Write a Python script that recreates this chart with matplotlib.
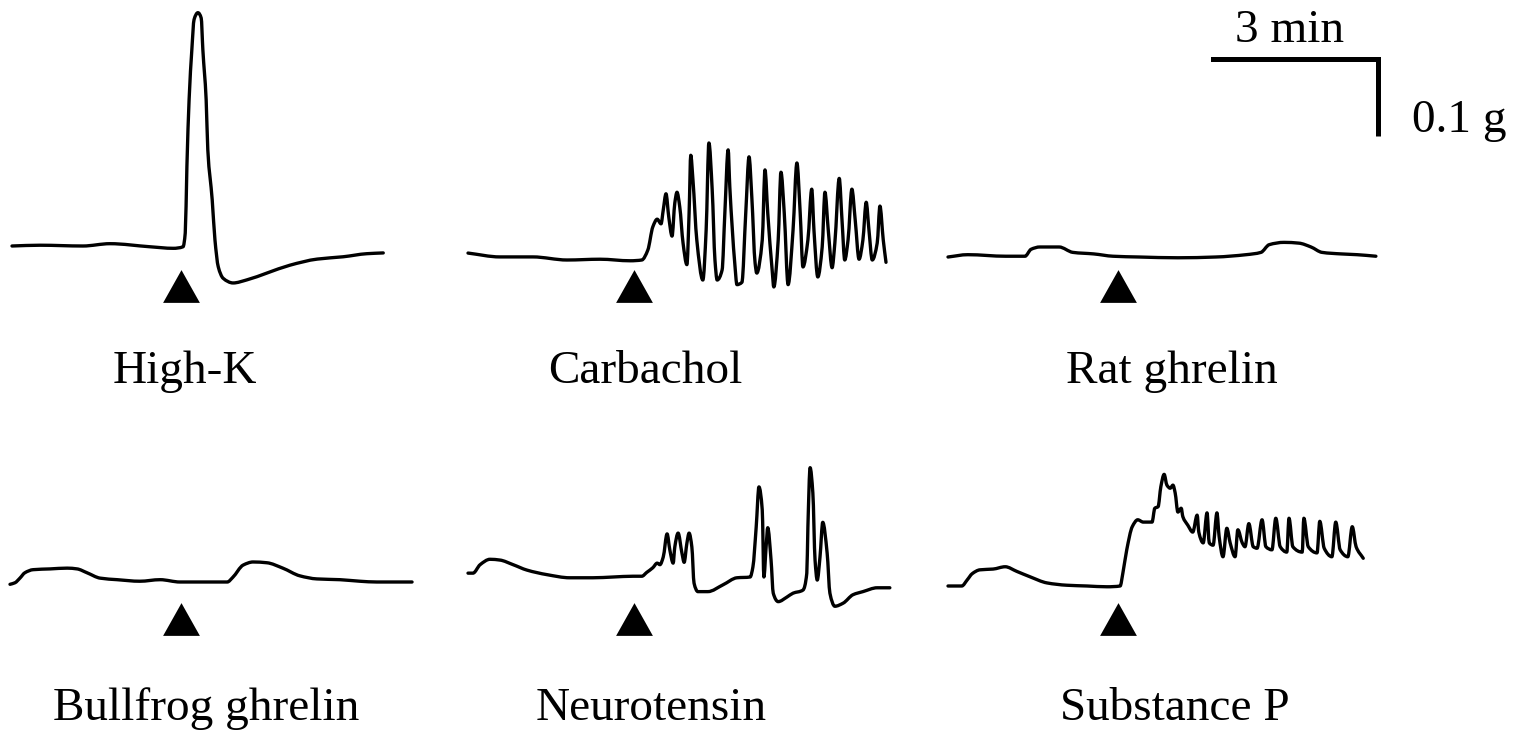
import matplotlib
matplotlib.use("Agg")
import numpy as np
import matplotlib.pyplot as plt
from matplotlib.transforms import offset_copy
from matplotlib.path import Path
from matplotlib.patches import PathPatch

# ---------------- data (time in min from trace start, tension in g above baseline) -------------
HIGHK_T = [0, 0.51, 1.29, 1.78, 2.51, 2.93, 3.11, 3.15, 3.18, 3.22, 3.27, 3.31, 3.38, 3.44, 3.47,
           3.53, 3.56, 3.64, 3.69, 3.75, 3.84, 4.02, 4.27, 4.64, 5.05, 5.55, 6.02, 6.45, 6.75]
HIGHK_G = [0, 0.001, 0, 0.003, -0.001, -0.003, -0.001, 0.017, 0.103, 0.190, 0.255, 0.294, 0.303,
           0.296, 0.255, 0.190, 0.125, 0.060, 0.008, -0.027, -0.042, -0.048, -0.044, -0.035,
           -0.025, -0.017, -0.014, -0.010, -0.009]

CARB_T = [0.00, 0.58, 1.18, 1.80, 2.40, 2.95, 3.16, 3.27, 3.36, 3.44, 3.51, 3.55, 3.60, 3.65, 3.71,
          3.76, 3.80, 3.85, 3.91, 3.98, 4.02, 4.05, 4.09, 4.16, 4.27, 4.33, 4.38, 4.44, 4.49,
          4.53, 4.62, 4.67, 4.73, 4.76, 4.85, 4.89, 4.98, 5.05, 5.11, 5.16, 5.22, 5.25, 5.35,
          5.40, 5.45, 5.53, 5.56, 5.64, 5.69, 5.75, 5.82, 5.91, 5.98, 6.04, 6.09, 6.18, 6.25,
          6.29, 6.36, 6.44, 6.49, 6.55, 6.62, 6.67, 6.75, 6.80, 6.85, 6.91, 6.98, 7.04, 7.11,
          7.18, 7.24, 7.29, 7.35, 7.44, 7.49, 7.55, 7.60]
CARB_G = [0.009, 0.004, 0.004, 0.000, 0.001, -0.001, 0.000, 0.013, 0.043, 0.053, 0.047, 0.065,
          0.086, 0.056, 0.031, 0.074, 0.088, 0.069, 0.022, -0.006, 0.061, 0.136, 0.104, 0.026,
          -0.026, 0.039, 0.152, 0.091, 0.000, -0.026, -0.013, 0.061, 0.143, 0.095, -0.004,
          -0.032, -0.029, 0.061, 0.134, 0.082, -0.004, -0.017, 0.026, 0.117, 0.061, -0.013,
          -0.035, 0.026, 0.114, 0.061, -0.032, 0.039, 0.126, 0.061, -0.009, 0.026, 0.092,
          0.039, -0.022, 0.017, 0.088, 0.039, -0.010, 0.022, 0.106, 0.052, 0.000, 0.026, 0.092,
          0.052, 0.001, 0.026, 0.075, 0.039, 0.000, 0.022, 0.070, 0.026, -0.003]

RAT_T = [0, 0.36, 1.05, 1.40, 1.51, 1.67, 2.02, 2.27, 2.65, 3.00, 3.47, 4.18, 4.87, 5.42, 5.69,
         5.84, 6.11, 6.38, 6.60, 6.80, 7.15, 7.44, 7.78]
RAT_G = [0, 0.003, 0.001, 0.001, 0.010, 0.013, 0.013, 0.006, 0.004, 0.001, 0, -0.001, 0, 0.003,
         0.006, 0.016, 0.019, 0.018, 0.013, 0.006, 0.004, 0.003, 0.001]

BULL_T = [0, 0.09, 0.18, 0.27, 0.42, 0.73, 1.04, 1.22, 1.40, 1.64, 1.95, 2.36, 2.73, 3.09, 3.45,
          3.95, 4.05, 4.24, 4.42, 4.67, 4.96, 5.27, 5.58, 6.00, 6.36, 6.67, 7.31]
BULL_G = [-0.003, -0.001, 0.005, 0.012, 0.016, 0.017, 0.018, 0.017, 0.012, 0.005, 0.003, 0.001,
          0.003, 0, 0, 0, 0.006, 0.022, 0.026, 0.025, 0.018, 0.008, 0.004, 0.003, 0.001, 0, 0]

NEURO_T = [0, 0.09, 0.22, 0.40, 0.58, 0.82, 1.07, 1.44, 1.85, 2.27, 2.64, 3.00, 3.16, 3.25, 3.36,
           3.44, 3.49, 3.55, 3.62, 3.67, 3.73, 3.76, 3.82, 3.89, 3.93, 3.98, 4.02, 4.07, 4.11,
           4.18, 4.36, 4.64, 4.89, 5.13, 5.18, 5.24, 5.29, 5.35, 5.38, 5.42, 5.45, 5.51, 5.55,
           5.64, 5.80, 5.91, 6.09, 6.16, 6.18, 6.22, 6.27, 6.31, 6.35, 6.40, 6.45, 6.53, 6.58,
           6.67, 6.82, 7.00, 7.18, 7.44, 7.67]
NEURO_G = [0.005, 0.005, 0.016, 0.023, 0.022, 0.016, 0.009, 0.003, -0.001, -0.001, 0, 0.001,
           0.001, 0.006, 0.012, 0.018, 0.016, 0.026, 0.056, 0.035, 0.018, 0.039, 0.057, 0.031,
           0.019, 0.044, 0.057, 0.039, -0.008, -0.019, -0.019, -0.010, -0.001, 0, 0.013, 0.065,
           0.117, 0.087, 0, 0.039, 0.064, 0.022, -0.021, -0.032, -0.026, -0.021, -0.017, 0.005,
           0.065, 0.142, 0.109, 0.022, -0.004, 0.026, 0.071, 0.031, -0.021, -0.038, -0.034,
           -0.023, -0.019, -0.014, -0.014]

SUBP_T = [0, 0.25, 0.35, 0.44, 0.58, 0.82, 1.04, 1.25, 1.49, 1.80, 2.16, 2.53, 2.89, 3.13, 3.18,
          3.25, 3.35, 3.45, 3.55, 3.71, 3.76, 3.82, 3.87, 3.93, 3.98, 4.04, 4.09, 4.13, 4.18,
          4.24, 4.27, 4.36, 4.45, 4.53, 4.56, 4.64, 4.71, 4.75, 4.82, 4.89, 4.93, 5.00, 5.07,
          5.13, 5.22, 5.27, 5.35, 5.40, 5.47, 5.55, 5.62, 5.71, 5.78, 5.89, 5.96, 6.04, 6.16,
          6.20, 6.27, 6.44, 6.47, 6.55, 6.71, 6.76, 6.84, 6.98, 7.05, 7.13, 7.27, 7.35, 7.42,
          7.55]
SUBP_G = [0, 0, 0.008, 0.016, 0.021, 0.022, 0.025, 0.019, 0.012, 0.004, 0.001, 0, -0.001, 0,
          0.017, 0.047, 0.077, 0.086, 0.083, 0.083, 0.101, 0.103, 0.129, 0.145, 0.131, 0.127,
          0.131, 0.121, 0.096, 0.101, 0.090, 0.079, 0.070, 0.092, 0.070, 0.056, 0.095, 0.056,
          0.053, 0.095, 0.064, 0.038, 0.075, 0.056, 0.038, 0.073, 0.056, 0.051, 0.081, 0.051,
          0.049, 0.086, 0.051, 0.047, 0.088, 0.051, 0.044, 0.088, 0.051, 0.044, 0.088, 0.051,
          0.043, 0.084, 0.049, 0.038, 0.083, 0.047, 0.038, 0.077, 0.051, 0.036]

LABELS = ["High-K", "Carbachol", "Rat ghrelin", "Bullfrog ghrelin", "Neurotensin", "Substance P"]
STIM_T = [3.07, 3.02, 3.09, 3.11, 3.02, 3.09]   # drug application (min from trace start)
SCALE_MIN = 3
SCALE_G = 0.1

# ---------------- layout ----------------
W, H, DPI = 1527, 735, 100
PX_PER_MIN = 55.0
PX_PER_G = 770.0

plt.rcParams['font.family'] = ['Liberation Serif', 'DejaVu Serif']

fig = plt.figure(figsize=(W / DPI, H / DPI), dpi=DPI)
ax = fig.add_axes([0, 0, 1, 1])
ax.set_xlim(0, W / PX_PER_MIN)
ax.set_ylim(0, H / PX_PER_G)
ax.axis('off')


def panel_tr(x0, y0):
    """transform placing data (min, g) with origin at pixel (x0, y0) from top-left"""
    return offset_copy(ax.transData, fig=fig, x=x0, y=H - y0, units='dots')


def smooth_path(t, g):
    """Bezier path through every data point (monotone cubic Hermite tangents)."""
    t = np.asarray(t, float)
    g = np.asarray(g, float)
    h = np.diff(t)
    d = np.diff(g) / h
    m = np.zeros_like(g)
    m[0], m[-1] = d[0], d[-1]
    for i in range(1, len(g) - 1):
        if d[i - 1] * d[i] > 0:
            w1 = 2 * h[i] + h[i - 1]
            w2 = h[i] + 2 * h[i - 1]
            m[i] = (w1 + w2) / (w1 / d[i - 1] + w2 / d[i])
    verts = [(t[0], g[0])]
    codes = [Path.MOVETO]
    for i in range(len(t) - 1):
        verts += [(t[i] + h[i] / 3, g[i] + m[i] * h[i] / 3),
                  (t[i + 1] - h[i] / 3, g[i + 1] - m[i + 1] * h[i] / 3),
                  (t[i + 1], g[i + 1])]
        codes += [Path.CURVE4] * 3
    return Path(verts, codes)


traces = [(HIGHK_T, HIGHK_G), (CARB_T, CARB_G), (RAT_T, RAT_G),
          (BULL_T, BULL_G), (NEURO_T, NEURO_G), (SUBP_T, SUBP_G)]
origins = [(12, 246), (468, 260), (948, 257), (10, 582), (468, 577), (948, 586)]
tri_y = [286, 286, 286, 619, 619, 619]
label_pos = [(185, 383), (645, 383), (1172, 383), (206, 720), (651, 720), (1175, 720)]

tri_marker = [(0, 0.89), (-1, -0.89), (1, -0.89), (0, 0.89)]

for (t, g), (x0, y0), ty, st, lab, (lx, ly) in zip(traces, origins, tri_y, STIM_T, LABELS, label_pos):
    ax.add_patch(PathPatch(smooth_path(t, g), facecolor='none', edgecolor='black', lw=2.4,
                           joinstyle='round', capstyle='round', transform=panel_tr(x0, y0)))
    ax.plot([st], [0], marker=tri_marker, ms=26.5, mew=0, color='black',
            transform=panel_tr(x0, ty))
    ax.text(lx / PX_PER_MIN, (H - ly) / PX_PER_G, lab, fontsize=34, ha='center', va='baseline')

# scale bar (corner at pixel 1378, 59)
ax.plot([-SCALE_MIN, 0], [0, 0], color='black', lw=3.6, solid_capstyle='projecting',
        transform=panel_tr(1378, 59))
ax.plot([0, 0], [0, -SCALE_G], color='black', lw=3.6, solid_capstyle='butt',
        transform=panel_tr(1378, 59))
ax.text(1290 / PX_PER_MIN, (H - 42) / PX_PER_G, f"{SCALE_MIN} min", fontsize=34,
        ha='center', va='baseline')
ax.text(1412 / PX_PER_MIN, (H - 132) / PX_PER_G, f"{SCALE_G} g", fontsize=34,
        ha='left', va='baseline')

fig.savefig("out.png", dpi=DPI, facecolor='white')
